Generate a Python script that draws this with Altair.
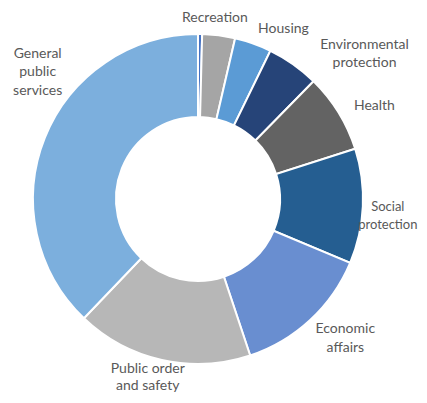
import altair as alt
import pandas as pd

categories = ["Other", "Recreation", "Housing", "Environmental protection", "Health",
              "Social protection", "Economic affairs", "Public order and safety",
              "General public services"]
values = [0.4, 3.2, 3.6, 5.1, 7.7, 11.2, 13.5, 17.2, 37.7]
labels = ["", "Recreation", "Housing", "Environmental\nprotection", "Health",
          "Social\nprotection", "Economic\naffairs", "Public order\nand safety",
          "General\npublic\nservices"]
colors = ["#4472C4", "#A5A5A5", "#5B9BD5", "#264478", "#636363",
          "#255E91", "#698ED0", "#B7B7B7", "#7CAFDD"]

df = pd.DataFrame({
    "category": categories,
    "value": values,
    "label": labels,
    "idx": list(range(len(categories))),
})
total = float(sum(values))
theta_scale = alt.Scale(domain=[0, total])

arcs = alt.Chart(df).mark_arc(radius=165, innerRadius=82, stroke="white", strokeWidth=2).encode(
    theta=alt.Theta("value:Q", stack=True, scale=theta_scale),
    order=alt.Order("idx:Q"),
    color=alt.Color("category:N", scale=alt.Scale(domain=categories, range=colors), legend=None),
)

# label placement style: (radius, dx, dy, lineHeight, fontSize) around each slice's mid-angle
placement = {
    "Recreation": (182, -6, 0, 18.5, 14),
    "Housing": (190, 22, 9, 18.5, 14),
    "Environmental protection": (221, 39, 26, 18.5, 14),
    "Health": (199, 7, 11, 18.5, 14),
    "Social protection": (197, -7, -1, 18.5, 13),
    "Economic affairs": (202, 10, -18, 18.5, 14),
    "Public order and safety": (193, -8, -18, 17, 14),
    "General public services": (204, 29, -69.5, 18.5, 14),
}

label_base = alt.Chart(df).transform_window(
    cum="sum(value)", sort=[alt.SortField("idx")], frame=[None, 0]
).transform_calculate(mid="datum.cum - datum.value / 2")

layers = [arcs]
for cat, (r, dx, dy, lh, fs) in placement.items():
    layers.append(
        label_base.transform_filter(alt.datum.category == cat).mark_text(
            radius=r, dx=dx, dy=dy, font="Lato", fontSize=fs, color="#595959",
            lineBreak="\n", lineHeight=lh, align="center", baseline="middle",
        ).encode(
            theta=alt.Theta("mid:Q", stack=None, scale=theta_scale),
            text="label:N",
        )
    )

chart = alt.layer(*layers).properties(
    width=380, height=382,
    autosize=alt.AutoSizeParams(type="none"),
    padding={"left": 0, "top": 0, "right": 31, "bottom": 5},
).configure_view(stroke=None)

chart.save("out.html", embed_options={"renderer": "svg", "actions": False})
